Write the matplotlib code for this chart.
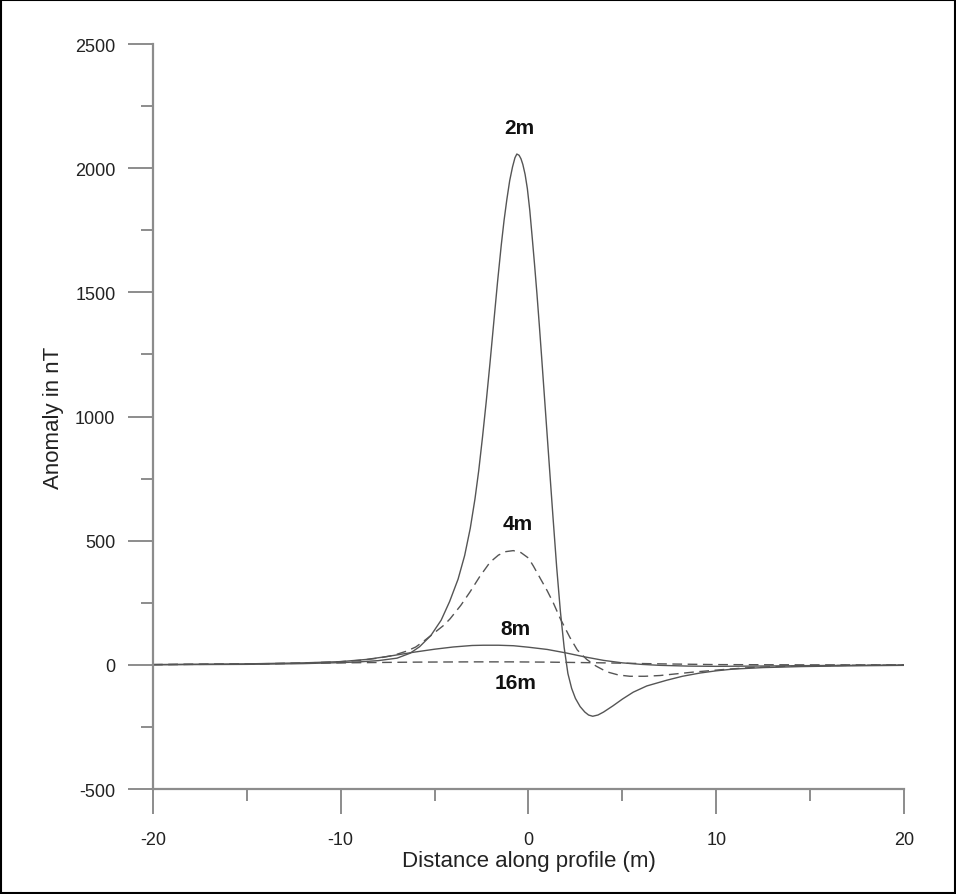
import matplotlib
matplotlib.use('Agg')
import matplotlib.pyplot as plt
from matplotlib.ticker import MultipleLocator
from matplotlib.patches import Rectangle

plt.rcParams['font.family'] = ['Liberation Sans', 'DejaVu Sans']
plt.rcParams['axes.unicode_minus'] = False

# Anomaly profiles (x in m, anomaly in nT)
x_2m = [-20, -15, -12, -10, -9, -8, -7, -6.3, -5.8, -5.2, -4.65, -4.2, -3.75, -3.4, -3.1,
        -2.85, -2.65, -2.45, -2.25, -2.05, -1.85, -1.65, -1.45, -1.3, -1.15, -1.0, -0.85,
        -0.72, -0.62, -0.5, -0.4, -0.3, -0.18, -0.06, 0.07, 0.2, 0.32, 0.45, 0.58, 0.7,
        0.85, 1.0, 1.15, 1.3, 1.5, 1.7, 1.9, 2.1, 2.3, 2.5, 2.75, 3.0, 3.2, 3.42, 3.7,
        4.0, 4.5, 5.0, 5.58, 6.3, 7.36, 8.2, 9.13, 10.0, 10.9, 12.5, 14.5, 17, 20]
y_2m = [0.5, 2, 5, 9, 12, 17, 27, 47, 73, 118, 180, 255, 345, 440, 550,
        668, 782, 916, 1060, 1215, 1378, 1540, 1690, 1790, 1875, 1950, 2005,
        2042, 2057, 2052, 2038, 2015, 1975, 1918, 1830, 1720, 1615, 1495, 1365, 1240,
        1080, 920, 760, 601, 395, 215, 70, -35, -95, -135, -168, -190, -202, -207, -202,
        -190, -165, -138, -110, -85, -62, -46, -33, -24, -17, -11, -7, -4, -2]

x_4m = [-20, -15, -12, -10, -9, -8, -7.2, -6.5, -6.0, -5.5, -5.0, -4.5, -4.18, -3.6, -3.12,
        -2.6, -2.05, -1.6, -1.2, -0.81, -0.4, 0.0, 0.26, 0.6, 1.0, 1.32, 1.7, 2.21, 2.6,
        3.1, 3.6, 4.17, 4.8, 5.4, 6.2, 7.0, 7.9, 8.8, 10.2, 11.8, 14, 17, 20]
y_4m = [1, 3, 7, 13, 18, 27, 38, 55, 72, 100, 130, 160, 185, 240, 293,
        355, 413, 442, 456, 460, 452, 430, 398, 352, 298, 250, 185, 110, 60,
        22, -5, -28, -41, -46, -46, -43, -36, -29, -20, -11, -5, -2, -1]

x_8m = [-20, -15, -12, -10, -8.6, -7.5, -6.1, -5.0, -4.0, -3.0, -2.4, -1.6, -0.8, 0.0,
        1.0, 2.0, 3.0, 4.0, 5.0, 6.0, 7.0, 8.5, 10, 12, 15, 20]
y_8m = [1, 4, 8, 13, 22, 34, 51, 63, 72, 78, 79, 79, 77, 71,
        62, 48, 32, 18, 8, 2, -2, -5, -6, -5, -3, -1]

x_16m = [-20, -15, -10, -6, -3, -1, 1, 4, 7, 10, 15, 20]
y_16m = [1, 4, 8, 11, 12, 12, 11, 8, 4, 1, 0, 0]

labels = ['2m', '4m', '8m', '16m']
label_x = [-0.47, -0.6, -0.67, -0.67]
label_y = [2163, 568, 145, -73]

line_col = '#555555'
axis_col = '#8c8c8c'

fig = plt.figure(figsize=(9.56, 8.95), dpi=100)
ax = fig.add_axes([0.160, 0.1173, 0.7856, 0.8324])

ax.plot(x_2m, y_2m, color=line_col, lw=1.0)
ax.plot(x_4m, y_4m, color=line_col, lw=1.0, dashes=(7, 4))
ax.plot(x_8m, y_8m, color=line_col, lw=1.0)
ax.plot(x_16m, y_16m, color=line_col, lw=1.0, dashes=(7, 4))

for t, tx, ty in zip(labels, label_x, label_y):
    ax.text(tx, ty, t, ha='center', va='center', fontsize=15, fontweight='bold', color='#111111')

ax.set_xlim(-20, 20)
ax.set_ylim(-500, 2500)
ax.xaxis.set_major_locator(MultipleLocator(10))
ax.xaxis.set_minor_locator(MultipleLocator(5))
ax.yaxis.set_major_locator(MultipleLocator(500))
ax.yaxis.set_minor_locator(MultipleLocator(250))

for side in ['top', 'right']:
    ax.spines[side].set_visible(False)
for side in ['left', 'bottom']:
    ax.spines[side].set_color(axis_col)
    ax.spines[side].set_linewidth(1.6)

ax.tick_params(which='major', length=18, width=1.4, color=axis_col, labelsize=13,
               labelcolor='#222222', pad=9, direction='out')
ax.tick_params(axis='x', which='major', pad=12)
ax.tick_params(which='minor', length=8.5, width=1.4, color=axis_col, direction='out')

ax.set_xlabel('Distance along profile (m)', fontsize=16, color='#222222', labelpad=2)
ax.set_ylabel('Anomaly in nT', fontsize=16, color='#222222', labelpad=8)

# frame round the whole picture
fig.patches.append(Rectangle((0.001, 0.001), 0.998, 0.998, transform=fig.transFigure,
                             fill=False, edgecolor='black', linewidth=1.5))

fig.savefig('out.png', dpi=100)
